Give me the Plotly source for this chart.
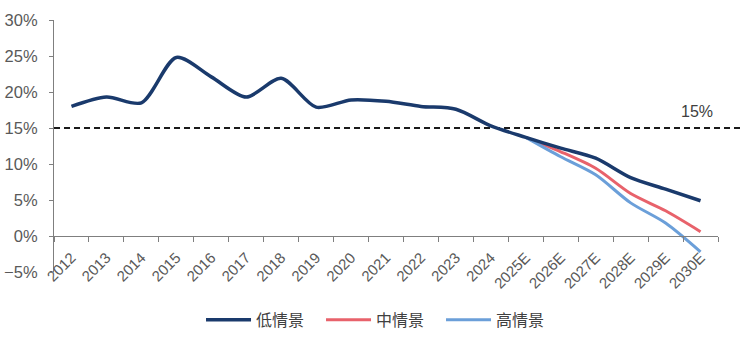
import plotly.graph_objects as go

years = ["2012", "2013", "2014", "2015", "2016", "2017", "2018", "2019", "2020",
         "2021", "2022", "2023", "2024", "2025E", "2026E", "2027E", "2028E",
         "2029E", "2030E"]
low = [18.0, 19.3, 18.5, 24.8, 22.1, 19.3, 21.9, 17.9, 18.9, 18.7, 18.0, 17.6,
       15.3, 13.7, 12.2, 10.8, 8.1, 6.5, 4.9]
mid_years = years[13:]
mid = [13.7, 11.7, 9.4, 5.9, 3.5, 0.6]
high_years = years[13:]
high = [13.7, 11.0, 8.5, 4.6, 1.8, -2.2]
threshold = 15

C_LOW = "#1a3a6c"
C_MID = "#e8626b"
C_HIGH = "#6b9fd9"
GRAY = "#595959"
AXIS = "#7f7f7f"

fig = go.Figure()
fig.add_trace(go.Scatter(x=mid_years, y=mid, name="中情景", mode="lines", legendrank=2,
                         line=dict(color=C_MID, width=3, shape="spline", smoothing=0.8)))
fig.add_trace(go.Scatter(x=high_years, y=high, name="高情景", mode="lines", legendrank=3,
                         line=dict(color=C_HIGH, width=3, shape="spline", smoothing=0.8)))
fig.add_trace(go.Scatter(x=years, y=low, name="低情景", mode="lines", legendrank=1,
                         line=dict(color=C_LOW, width=3.5, shape="spline", smoothing=0.8)))

fig.add_shape(type="line", xref="paper", x0=0, x1=1.035, yref="y", y0=threshold, y1=threshold,
              line=dict(color="#1a1a1a", width=2, dash="6px,4px"), layer="below")
fig.add_annotation(xref="paper", x=0.995, yref="y", y=threshold, yshift=17,
                   text=f"{threshold}%", showarrow=False, xanchor="right",
                   font=dict(family="Liberation Sans, Arial", size=16, color="#404040"))

fig.update_layout(
    width=751, height=349,
    margin=dict(l=54, r=33, t=20, b=74),
    plot_bgcolor="white", paper_bgcolor="white",
    font=dict(family="Liberation Sans, Arial, Noto Sans CJK SC", color=GRAY),
    legend=dict(orientation="h", x=0.4925, xanchor="center", y=-0.19, yanchor="middle",
                font=dict(family="Noto Sans CJK SC", size=16, color="#404040"),
                itemwidth=45, entrywidth=60, entrywidthmode="pixels"),
    xaxis=dict(type="category", categoryorder="array", categoryarray=years,
               anchor="free", position=5 / 35, tickson="boundaries",
               showline=True, linecolor=AXIS, linewidth=1.2,
               ticks="outside", ticklen=5, tickcolor=AXIS,
               tickangle=-45, tickfont=dict(size=15, color=GRAY),
               ticklabelstandoff=6, automargin=False,
               showgrid=False, zeroline=False, range=[-0.5, 18.5]),
    yaxis=dict(range=[-5, 30], dtick=5, ticksuffix="%",
               showline=True, linecolor=AXIS, linewidth=1.2,
               ticks="outside", ticklen=4, tickcolor=AXIS,
               tickfont=dict(size=16.5, color=GRAY), ticklabelstandoff=8,
               automargin=False,
               showgrid=False, zeroline=False),
)
fig.write_html("out.html")
